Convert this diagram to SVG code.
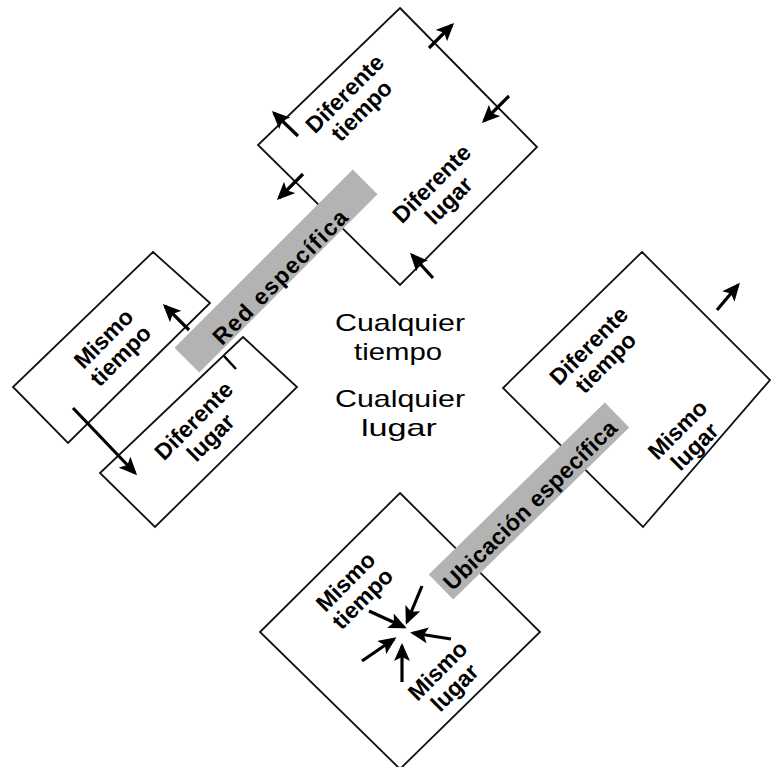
<svg xmlns="http://www.w3.org/2000/svg" width="771" height="767" viewBox="0 0 771 767">
<style>
.box{fill:#fff;stroke:#111;stroke-width:1.8;stroke-linejoin:miter}
.band{fill:#b3b3b3;stroke:none}
.lbl{font-family:"Liberation Sans",Arial,sans-serif;font-weight:bold;font-size:23px;fill:#000;text-anchor:middle}
.ctr{font-family:"Liberation Sans",Arial,sans-serif;font-size:24px;fill:#000;text-anchor:middle}
.arr{stroke:#000;stroke-width:3.2;fill:none;marker-end:url(#ah)}
.tick{stroke:#000;stroke-width:2.5;fill:none}
</style>
<defs>
<marker id="ah" markerUnits="userSpaceOnUse" markerWidth="18" markerHeight="16" refX="15" refY="8" orient="auto">
<path d="M0,0 L18,8 L0,16 L4,8 z" fill="#000"/>
</marker>
</defs>
<rect width="771" height="767" fill="#fff"/>

<g id="box-top">
<polygon class="box" points="400,8 537,147 400,285 258,145"/>
</g>
<g id="box-left-1">
<polygon class="box" points="153,252 210,303 68,443 13,387"/>
</g>
<g id="box-left-2">
<polygon class="box" points="243,337 297,387 155,527 100,473"/>
</g>
<g id="box-right">
<polygon class="box" points="642,252 770,380 643,527 503,388"/>
</g>
<g id="box-bottom">
<polygon class="box" points="400,493 540,632 400,769 260,632"/>
</g>

<g id="band-red">
<rect class="band" x="-126" y="-17.5" width="252" height="35" transform="translate(276,271) rotate(-45)"/>
<text class="lbl" x="0" y="8" textLength="180" lengthAdjust="spacing" transform="translate(280,277) rotate(-45)">Red específica</text>
</g>
<g id="band-ubicacion">
<rect class="band" x="-123" y="-17.5" width="246" height="35" transform="translate(529,501) rotate(-44.3)"/>
<text class="lbl" x="0" y="8" textLength="232" lengthAdjust="spacing" transform="translate(530,505) rotate(-44.3)">Ubicación  específica</text>
</g>

<g id="label-top-a" transform="translate(353,102) rotate(-45)">
<text class="lbl" x="0" y="-4">Diferente</text>
<text class="lbl" x="0" y="20">tiempo</text>
</g>
<g id="label-top-b" transform="translate(440,192) rotate(-45)">
<text class="lbl" x="0" y="-4">Diferente</text>
<text class="lbl" x="0" y="20">lugar</text>
</g>
<g id="label-left-1" transform="translate(112,347) rotate(-45)">
<text class="lbl" x="0" y="-4">Mismo</text>
<text class="lbl" x="0" y="20">tiempo</text>
</g>
<g id="label-left-2" transform="translate(202,429) rotate(-45)">
<text class="lbl" x="0" y="-4">Diferente</text>
<text class="lbl" x="0" y="20">lugar</text>
</g>
<g id="label-right-a" transform="translate(597,354) rotate(-45)">
<text class="lbl" x="0" y="-4">Diferente</text>
<text class="lbl" x="0" y="20">tiempo</text>
</g>
<g id="label-right-b" transform="translate(686,438) rotate(-45)">
<text class="lbl" x="0" y="-4">Mismo</text>
<text class="lbl" x="0" y="20">lugar</text>
</g>
<g id="label-bottom-a" transform="translate(354,590) rotate(-45)">
<text class="lbl" x="0" y="-4">Mismo</text>
<text class="lbl" x="0" y="20">tiempo</text>
</g>
<g id="label-bottom-b" transform="translate(446,679) rotate(-45)">
<text class="lbl" x="0" y="-4">Mismo</text>
<text class="lbl" x="0" y="20">lugar</text>
</g>

<g id="center-text">
<text class="ctr" x="400" y="331" textLength="130" lengthAdjust="spacingAndGlyphs">Cualquier</text>
<text class="ctr" x="398" y="360" textLength="88" lengthAdjust="spacingAndGlyphs">tiempo</text>
<text class="ctr" x="400" y="407" textLength="130" lengthAdjust="spacingAndGlyphs">Cualquier</text>
<text class="ctr" x="399" y="436" textLength="76" lengthAdjust="spacingAndGlyphs">lugar</text>
</g>

<g id="connectors">
<line class="arr" x1="298" y1="136" x2="274" y2="113"/>
<line class="arr" x1="303" y1="174" x2="279" y2="198"/>
<line class="arr" x1="429" y1="48" x2="452" y2="25"/>
<line class="arr" x1="509" y1="96" x2="484" y2="121"/>
<line class="arr" x1="433" y1="278" x2="412" y2="255"/>
<line class="arr" x1="189" y1="330" x2="165" y2="306"/>
<line class="tick" x1="224" y1="356" x2="236" y2="369"/>
<line class="arr" x1="73" y1="408" x2="135" y2="473"/>
<line class="arr" x1="717" y1="310" x2="738" y2="285"/>
<line class="arr" x1="422" y1="586" x2="407" y2="622"/>
<line class="arr" x1="369" y1="611" x2="404" y2="627"/>
<line class="arr" x1="451" y1="639" x2="413" y2="633"/>
<line class="arr" x1="362" y1="661" x2="394" y2="639"/>
<line class="arr" x1="402" y1="682" x2="402" y2="646"/>
</g>
</svg>
